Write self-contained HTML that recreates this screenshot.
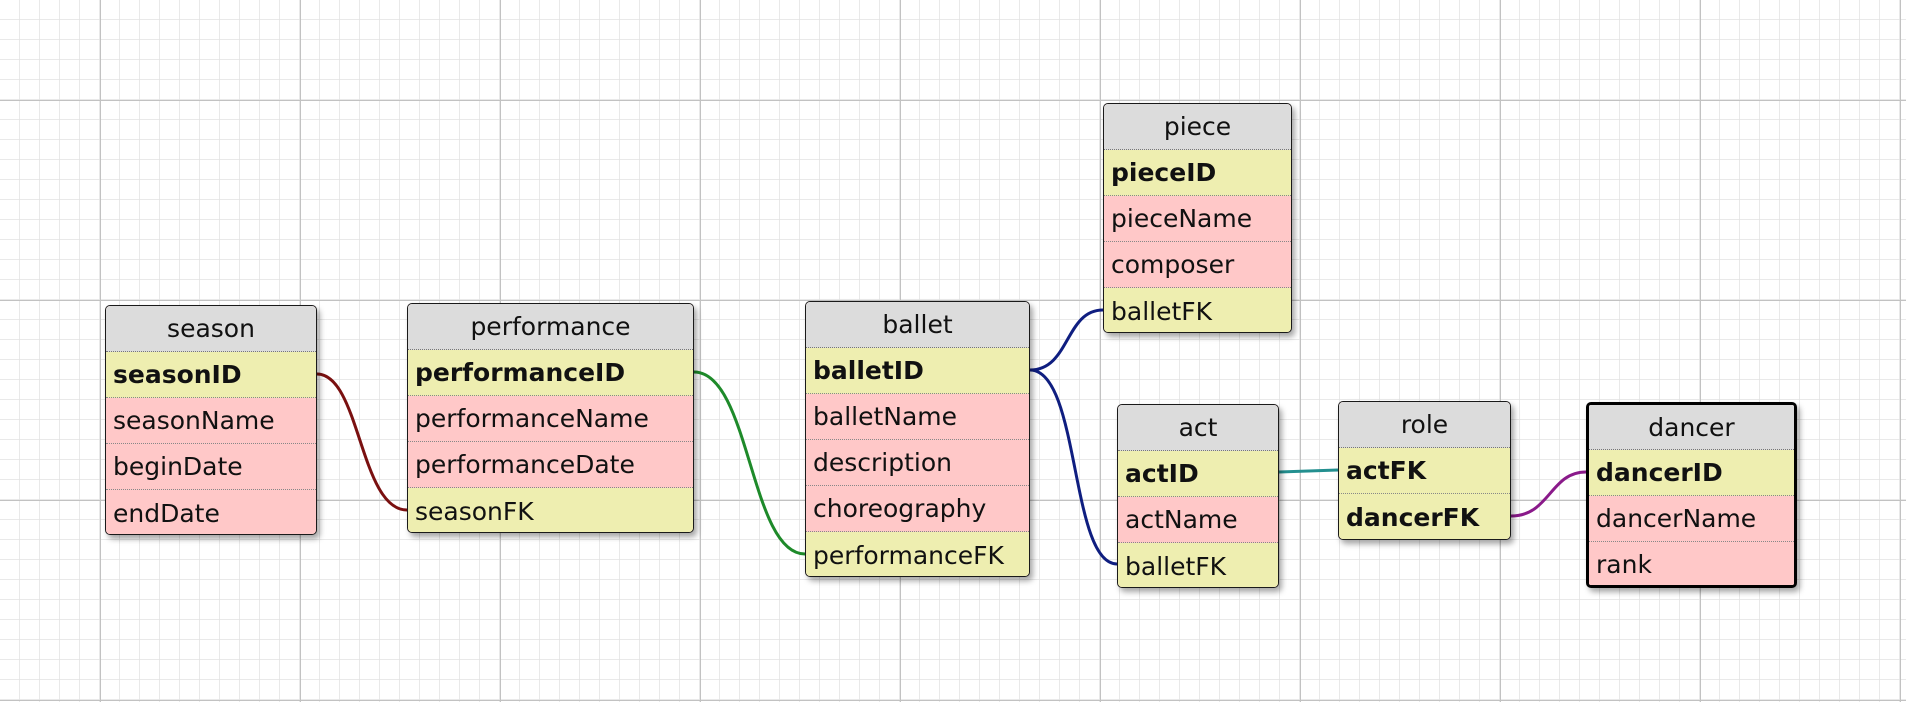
<!DOCTYPE html>
<html><head><meta charset="utf-8"><style>
html,body{margin:0;padding:0;width:1906px;height:702px;overflow:hidden;background:#fff;font-family:"DejaVu Sans","Liberation Sans",sans-serif;}
svg{position:absolute;left:0;top:0}
.t{position:absolute;border:1.5px solid #1a1a1a;border-radius:5px;box-shadow:3px 4px 6px rgba(0,0,0,0.35);overflow:hidden;box-sizing:border-box;background:#ffc8c8}
.t.thick{border:3px solid #000}
.h{background:#dcdcdc;text-align:center;font-size:25px;color:#111;box-sizing:border-box;border-bottom:1.5px dotted #777;display:flex;align-items:center;justify-content:center}
.r{font-size:25px;color:#111;padding-left:7px;box-sizing:border-box;border-bottom:1.5px dotted #888;display:flex;align-items:center;white-space:nowrap}
.r:last-child{border-bottom:none}
.y{background:#eeeeb0}.p{background:#ffc8c8}.b{font-weight:bold}
</style></head><body>
<svg width="1906" height="702">
<defs>
<pattern id="mi" width="20" height="20" patternUnits="userSpaceOnUse"><path d="M20 0V20M0 20H20" stroke="#e2e2e2" stroke-width="1.5" fill="none"/></pattern>
<pattern id="ma" x="100" y="100" width="200" height="200" patternUnits="userSpaceOnUse"><path d="M0 0V200M0 0H200" stroke="#c2c2c2" stroke-width="2" fill="none"/></pattern>
</defs>
<rect width="1906" height="702" fill="url(#mi)"/>
<rect width="1906" height="702" fill="url(#ma)"/>
<g fill="none" stroke-width="3">
<path d="M317 374 C360 374 360 510 407 510" stroke="#7a1010"/>
<path d="M694 372 C750 372 750 554 805 554" stroke="#1e8a2a"/>
<path d="M1030 370 C1070 370 1065 310 1103 310" stroke="#0f1e80"/>
<path d="M1030 370 C1080 370 1070 564 1117 564" stroke="#0f1e80"/>
<path d="M1279 472 L1338 470" stroke="#238f8f"/>
<path d="M1511 516 C1550 516 1550 472 1586 472" stroke="#8a1a8a"/>
</g>
</svg>

<div class="t" style="left:105px;top:305px;width:212px;height:230px">
<div class="h" style="height:46px">season</div>
<div class="r y b" style="height:46px">seasonID</div>
<div class="r p" style="height:46px">seasonName</div>
<div class="r p" style="height:46px">beginDate</div>
<div class="r p" style="height:46px">endDate</div>
</div>

<div class="t" style="left:407px;top:303px;width:287px;height:230px">
<div class="h" style="height:46px">performance</div>
<div class="r y b" style="height:46px">performanceID</div>
<div class="r p" style="height:46px">performanceName</div>
<div class="r p" style="height:46px">performanceDate</div>
<div class="r y" style="height:46px">seasonFK</div>
</div>

<div class="t" style="left:805px;top:301px;width:225px;height:276px">
<div class="h" style="height:46px">ballet</div>
<div class="r y b" style="height:46px">balletID</div>
<div class="r p" style="height:46px">balletName</div>
<div class="r p" style="height:46px">description</div>
<div class="r p" style="height:46px">choreography</div>
<div class="r y" style="height:46px">performanceFK</div>
</div>

<div class="t" style="left:1103px;top:103px;width:189px;height:230px">
<div class="h" style="height:46px">piece</div>
<div class="r y b" style="height:46px">pieceID</div>
<div class="r p" style="height:46px">pieceName</div>
<div class="r p" style="height:46px">composer</div>
<div class="r y" style="height:46px">balletFK</div>
</div>

<div class="t" style="left:1117px;top:404px;width:162px;height:184px">
<div class="h" style="height:46px">act</div>
<div class="r y b" style="height:46px">actID</div>
<div class="r p" style="height:46px">actName</div>
<div class="r y" style="height:46px">balletFK</div>
</div>

<div class="t" style="left:1338px;top:401px;width:173px;height:139px">
<div class="h" style="height:46px">role</div>
<div class="r y b" style="height:46px">actFK</div>
<div class="r y b" style="height:46px">dancerFK</div>
</div>

<div class="t thick" style="left:1586px;top:402px;width:211px;height:186px">
<div class="h" style="height:45px">dancer</div>
<div class="r y b" style="height:46px">dancerID</div>
<div class="r p" style="height:46px">dancerName</div>
<div class="r p" style="height:44px">rank</div>
</div>
</body></html>
